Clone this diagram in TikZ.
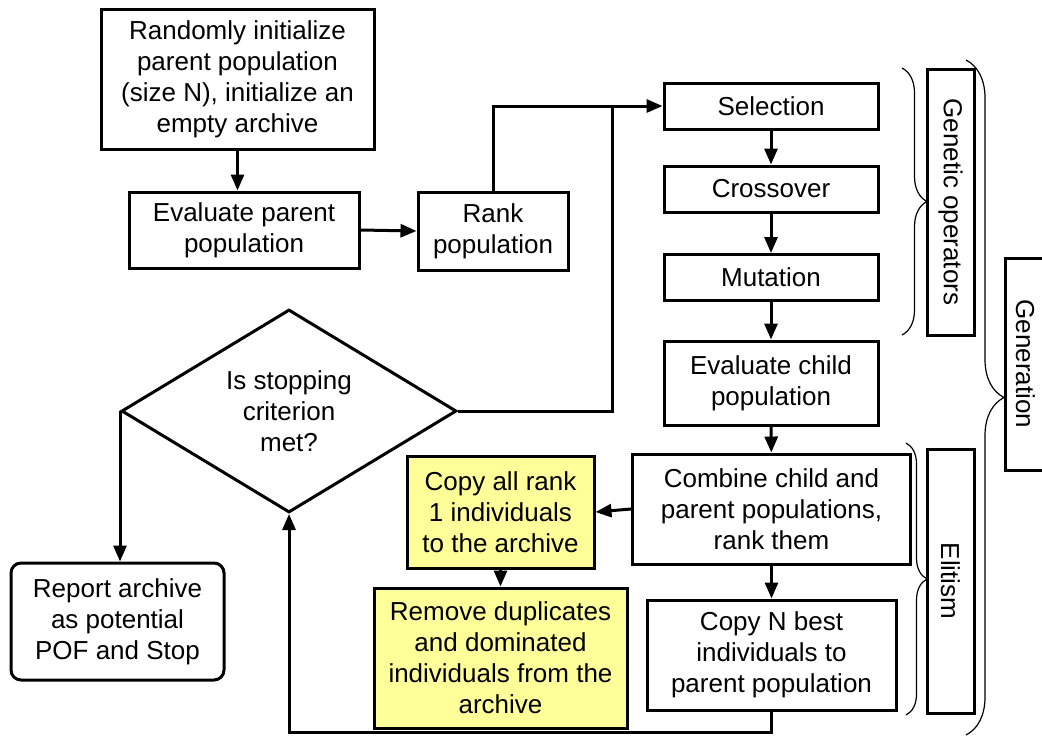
\documentclass[tikz,border=0pt]{standalone}
\usepackage{fontspec}
\setmainfont{Liberation Sans}
\usetikzlibrary{arrows.meta}
\usetikzlibrary{shapes}
\usetikzlibrary{decorations.pathreplacing}
\definecolor{archiveYellow}{HTML}{FFFF99}

\begin{document}
\begin{tikzpicture}[x = 0.5pt, y = -0.5pt]
\tikzstyle{every node}=[font = \fontsize{13}{15.5}\selectfont]
\tikzstyle{boxStyle}=[shape = rectangle, draw, line width = 1.5pt, align = center, inner sep = 2pt]
\tikzstyle{archiveStyle}=[boxStyle, fill = archiveYellow]
\tikzstyle{reportStyle}=[boxStyle, rounded corners = 5pt]
\tikzstyle{sideStyle}=[boxStyle, rotate = -90]
\tikzstyle{decisionStyle}=[shape = diamond, draw, line width = 1.5pt, align = center, inner sep = 0pt, aspect = 1.65]
\tikzstyle{lineStyle}=[line width = 1.5pt]
\tikzstyle{arrowStyle}=[lineStyle, -{Triangle[length = 8pt, width = 6.5pt]}]
\tikzstyle{braceStyle}=[decorate, line width = 0.6pt]
\useasboundingbox (0,0) rectangle (1042,735);
\node[boxStyle, minimum width = 136.5pt, minimum height = 70pt] (init) at (237.5,79) {Randomly initialize\\parent population\\(size N), initialize an\\empty archive};
\node[boxStyle, minimum width = 115pt, minimum height = 38pt] (evalp) at (244,230) {Evaluate parent\\population};
\node[boxStyle, minimum width = 75pt, minimum height = 39pt] (rank) at (493,231) {Rank\\population};
\node[boxStyle, minimum width = 107pt, minimum height = 23pt] (sel) at (771,106) {Selection};
\node[boxStyle, minimum width = 107pt, minimum height = 23pt] (cross) at (771,189) {Crossover};
\node[boxStyle, minimum width = 107pt, minimum height = 23pt] (mut) at (771,277.5) {Mutation};
\node[boxStyle, minimum width = 107pt, minimum height = 42pt] (evalc) at (771,383) {Evaluate child\\population};
\node[boxStyle, minimum width = 139pt, minimum height = 55pt] (comb) at (771.5,509) {Combine child and\\parent populations,\\rank them};
\node[boxStyle, minimum width = 124.5pt, minimum height = 55pt] (copyN) at (771.5,655) {Copy N best\\individuals to\\parent population};
\node[archiveStyle, minimum width = 93.5pt, minimum height = 56pt] (rank1) at (500.5,512) {Copy all rank\\1 individuals\\to the archive};
\node[archiveStyle, minimum width = 126.5pt, minimum height = 70pt] (remove) at (500.5,658) {Remove duplicates\\and dominated\\individuals from the\\archive};
\node[decisionStyle, minimum width = 167.5pt, minimum height = 101.5pt] (dec) at (289,411) {Is stopping\\criterion\\met?};
\node[reportStyle, minimum width = 106.5pt, minimum height = 58.5pt] (report) at (117.5,621.5) {Report archive\\as potential\\POF and Stop};
\node[sideStyle, minimum width = 133pt, minimum height = 23.5pt] (gop) at (950.5,202) {Genetic operators};
\node[sideStyle, minimum width = 106pt, minimum height = 20.5pt] (gen) at (1025.5,364) {Generation};
\node[sideStyle, minimum width = 132pt, minimum height = 23.5pt] (elit) at (950.5,581) {Elitism};
% braces
\draw[braceStyle, decoration = {brace, amplitude = 12.5pt}] (902,68) -- (902,335);
\draw[braceStyle, decoration = {brace, amplitude = 10.5pt}] (906,443) -- (906,715);
\draw[braceStyle, decoration = {brace, amplitude = 19pt}] (966,60) -- (966,735);
% connectors
\coordinate (join) at (612,106);
\coordinate (loop) at (0,732);
\draw[arrowStyle] (init.south) -- (init.south |- evalp.north);
\draw[arrowStyle] (evalp.east) -- (rank.west);
\draw[arrowStyle] (rank.north) |- (sel.west);
\draw[lineStyle] (dec.east) -| (join);
\draw[arrowStyle] (sel) -- (cross);
\draw[arrowStyle] (cross) -- (mut);
\draw[arrowStyle] (mut) -- (evalc);
\draw[arrowStyle] (evalc) -- (comb);
\draw[arrowStyle] (comb) -- (copyN);
\draw[arrowStyle] (comb.west) -- (rank1.east);
\draw[arrowStyle] (rank1) -- (remove);
\draw[arrowStyle] (copyN.south) -- (copyN.south |- loop) -| (dec.south);
\draw[arrowStyle] (dec.west) -- (dec.west |- report.north);
\end{tikzpicture}
\end{document}
